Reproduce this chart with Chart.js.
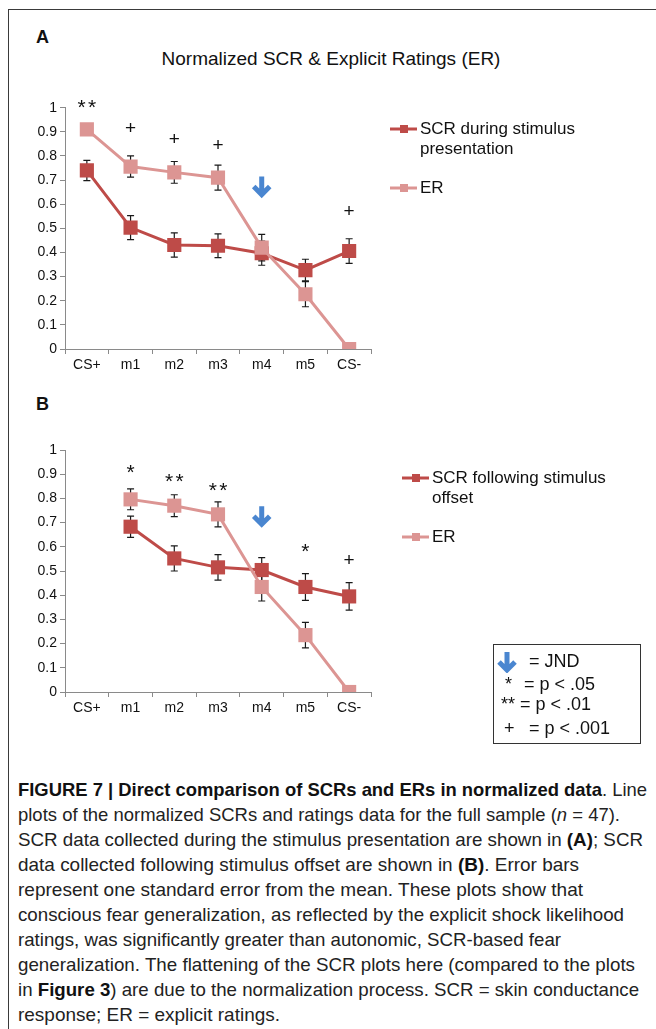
<!DOCTYPE html>
<html>
<head>
<meta charset="utf-8">
<script src="https://cdn.jsdelivr.net/npm/chart.js@4.4.1/dist/chart.umd.min.js"></script>
<style>
  body { margin: 0; background: #fff; font-family: "Liberation Sans", Arial, sans-serif; color: #111; }
  #page { position: relative; width: 656px; height: 1029px; overflow: hidden; }
  .frame { position: absolute; left: 8px; top: 9px; width: 700px; height: 1100px;
           border-left: 1.5px solid #3a3a3a; border-top: 1.5px solid #3a3a3a; }
  .panel-letter { position: absolute; font-weight: bold; font-size: 18px; }
  #titleA { position: absolute; left: 0; width: 662px; top: 48px; text-align: center; font-size: 19px; }
  .chart-box { position: absolute; left: 0; width: 656px; }
  #jnd { position: absolute; left: 493px; top: 644px; width: 146px; height: 98px;
         border: 1.5px solid #333; font-size: 18px; }
  #jnd span { position: absolute; white-space: nowrap; line-height: 20px; }
  #caption { position: absolute; left: 18px; top: 777px; font-size: 19px; line-height: 25px; color: #222; }
  #caption .ln { display: block; white-space: nowrap; height: 25px; }
  #caption .ln span { display: inline-block; transform-origin: 0 50%; }
  #caption b { color: #111; }
</style>
</head>
<body>
<div id="page">
  <div class="frame"></div>
  <div class="panel-letter" style="left:36px; top:27px;">A</div>
  <div id="titleA">Normalized SCR &amp; Explicit Ratings (ER)</div>
  <div class="chart-box" style="top:40px; height:345px;"><canvas id="chartA"></canvas></div>
  <div class="panel-letter" style="left:36px; top:394px;">B</div>
  <div class="chart-box" style="top:420px; height:310px;"><canvas id="chartB"></canvas></div>

  <div id="jnd">
    <svg style="position:absolute; left:3px; top:6px;" width="20" height="22" viewBox="0 0 20 22">
      <path d="M10 1 L10 19 M2 11 L10 19 L18 11" stroke="#4a86d0" stroke-width="5" fill="none"/>
    </svg>
    <span style="left:35px; top:6px;">= JND</span>
    <span style="left:11px; top:29px;">*</span>
    <span style="left:30px; top:29px;">= p &lt; .05</span>
    <span style="left:7px; top:49px;">**</span>
    <span style="left:26px; top:49px;">= p &lt; .01</span>
    <span style="left:10px; top:73px;">+</span>
    <span style="left:35px; top:73px;">= p &lt; .001</span>
  </div>

  <div id="caption">
    <div class="ln"><span><b>FIGURE 7 | Direct comparison of SCRs and ERs in normalized data</b>. Line</span></div>
    <div class="ln"><span>plots of the normalized SCRs and ratings data for the full sample (<i>n</i> = 47).</span></div>
    <div class="ln"><span>SCR data collected during the stimulus presentation are shown in <b>(A)</b>; SCR</span></div>
    <div class="ln"><span>data collected following stimulus offset are shown in <b>(B)</b>. Error bars</span></div>
    <div class="ln"><span>represent one standard error from the mean. These plots show that</span></div>
    <div class="ln"><span>conscious fear generalization, as reflected by the explicit shock likelihood</span></div>
    <div class="ln"><span>ratings, was significantly greater than autonomic, SCR-based fear</span></div>
    <div class="ln"><span>generalization. The flattening of the SCR plots here (compared to the plots</span></div>
    <div class="ln"><span>in <b>Figure 3</b>) are due to the normalization process. SCR = skin conductance</span></div>
    <div class="ln"><span>response; ER = explicit ratings.</span></div>
  </div>
</div>

<script>
// categorias y etiquetas de los ejes
const categories = ['CS+', 'm1', 'm2', 'm3', 'm4', 'm5', 'CS-'];
const yTickLabels = ['0', '0.1', '0.2', '0.3', '0.4', '0.5', '0.6', '0.7', '0.8', '0.9', '1'];

// Panel A: SCR durante la presentacion del estimulo
const scrA = [0.74, 0.503, 0.431, 0.428, 0.397, 0.327, 0.406];
const scrAErr = [0.042, 0.05, 0.05, 0.049, 0.05, 0.045, 0.051];
const erA = [0.91, 0.756, 0.732, 0.71, 0.42, 0.227, 0];
const erAErr = [0, 0.044, 0.045, 0.052, 0.055, 0.052, 0];
const sigA = ['**', '+', '+', '+', '', '', '+'];
const sigALevel = [1.025, 0.917, 0.873, 0.85, null, null, 0.573];
const jndALevel = 0.673;

// Panel B: SCR despues del estimulo
const scrB = [null, 0.683, 0.552, 0.515, 0.504, 0.434, 0.395];
const scrBErr = [null, 0.044, 0.052, 0.053, 0.051, 0.055, 0.057];
const erB = [null, 0.796, 0.77, 0.734, 0.434, 0.235, 0];
const erBErr = [null, 0.043, 0.045, 0.052, 0.058, 0.053, 0];
const sigB = ['', '*', '**', '**', '', '*', '+'];
const sigBLevel = [null, 0.93, 0.895, 0.855, null, 0.605, 0.55];
const jndBLevel = 0.726;

const jndIndex = 4; // m4
const scrColor = '#be4b48';
const erColor = '#dc9593';
const axisColor = '#8a8a8a';
const fontFamily = '"Liberation Sans", Arial, sans-serif';

// ancho de cada linea del pie de figura (borde derecho en px)
const captionLineEnds = [647, 620, 643, 579, 583, 624, 561, 635, 639, 280];

// barras de error (debajo de las lineas)
const errorBars = {
  id: 'errorBars',
  beforeDatasetsDraw(chart) {
    const ctx = chart.ctx;
    const y = chart.scales.y;
    ctx.save();
    ctx.strokeStyle = '#1a1a1a';
    ctx.lineWidth = 1.2;
    chart.data.datasets.forEach((ds, di) => {
      const meta = chart.getDatasetMeta(di);
      ds.errors.forEach((e, i) => {
        if (!e || ds.data[i] == null) return;
        const x = meta.data[i].x;
        const top = y.getPixelForValue(ds.data[i] + e);
        const bot = y.getPixelForValue(ds.data[i] - e);
        ctx.beginPath();
        ctx.moveTo(x, top); ctx.lineTo(x, bot);
        ctx.moveTo(x - 3.5, top); ctx.lineTo(x + 3.5, top);
        ctx.moveTo(x - 3.5, bot); ctx.lineTo(x + 3.5, bot);
        ctx.stroke();
      });
    });
    ctx.restore();
  }
};

// marcas de significancia y flecha JND
const sigMarks = {
  id: 'sigMarks',
  afterDatasetsDraw(chart, args, opts) {
    const ctx = chart.ctx;
    const xs = chart.scales.x, ys = chart.scales.y;
    ctx.save();
    ctx.fillStyle = '#111';
    ctx.textAlign = 'center';
    ctx.textBaseline = 'alphabetic';
    opts.labels.forEach((lab, i) => {
      if (!lab) return;
      const x = xs.getPixelForValue(i);
      const yc = ys.getPixelForValue(opts.levels[i]);
      if (lab[0] === '*') {
        ctx.font = '21px ' + fontFamily;
        const n = lab.length;
        for (let k = 0; k < n; k++) {
          ctx.fillText('*', x + (k - (n - 1) / 2) * 10.5, yc + 0.58 * 21);
        }
      } else {
        ctx.font = '19px ' + fontFamily;
        ctx.fillText(lab, x, yc + 0.35 * 19);
      }
    });
    // flecha azul
    const ax = xs.getPixelForValue(jndIndex);
    const ay = ys.getPixelForValue(opts.jndLevel);
    ctx.strokeStyle = '#4a86d0';
    ctx.lineWidth = 5;
    ctx.beginPath();
    ctx.moveTo(ax, ay - 10); ctx.lineTo(ax, ay + 8);
    ctx.moveTo(ax - 8, ay); ctx.lineTo(ax, ay + 8); ctx.lineTo(ax + 8, ay);
    ctx.stroke();
    ctx.restore();
  }
};

// leyenda al lado derecho
const sideLegend = {
  id: 'sideLegend',
  afterDraw(chart, args, opts) {
    const ctx = chart.ctx;
    const x0 = chart.chartArea.right + opts.dx;
    ctx.save();
    ctx.font = '17px ' + fontFamily;
    ctx.textBaseline = 'middle';
    opts.items.forEach(item => {
      const ds = chart.data.datasets[item.ds];
      ctx.strokeStyle = ds.borderColor;
      ctx.lineWidth = 3;
      ctx.beginPath();
      ctx.moveTo(x0, item.y); ctx.lineTo(x0 + 27, item.y);
      ctx.stroke();
      ctx.fillStyle = ds.backgroundColor;
      ctx.fillRect(x0 + 10, item.y - 4, 8, 8);
      ctx.fillStyle = '#111';
      item.lines.forEach((t, k) => ctx.fillText(t, x0 + 30, item.y + k * 20));
    });
    ctx.restore();
  }
};

function buildChart(id, scr, scrErr, er, erErr, extra) {
  return new Chart(document.getElementById(id), {
    type: 'line',
    data: {
      labels: categories,
      datasets: [
        { label: extra.scrLabel, data: scr, errors: scrErr, borderColor: scrColor, backgroundColor: scrColor,
          borderWidth: 3, pointStyle: 'rect', pointRadius: 10, pointBorderWidth: 0, order: 1 },
        { label: 'ER', data: er, errors: erErr, borderColor: erColor, backgroundColor: erColor,
          borderWidth: 3, pointStyle: 'rect', pointRadius: 10, pointBorderWidth: 0, order: 0 }
      ]
    },
    options: {
      responsive: true,
      maintainAspectRatio: false,
      animation: false,
      layout: { padding: { left: 20, right: 285, top: extra.padTop, bottom: extra.padBottom } },
      scales: {
        x: {
          offset: true,
          grid: { offset: true, drawOnChartArea: false, tickLength: 5, color: axisColor },
          border: { color: axisColor },
          ticks: { color: '#111', font: { size: 14, family: fontFamily }, padding: 3, maxRotation: 0 },
          afterFit(s) { s.height = 26; }
        },
        y: {
          min: 0, max: 1,
          ticks: { stepSize: 0.1, color: '#111', font: { size: 14, family: fontFamily }, padding: 3,
                   callback: (v, i) => yTickLabels[i] },
          grid: { drawOnChartArea: false, tickLength: 5, color: axisColor },
          border: { color: axisColor },
          afterFit(s) { s.width = 45; }
        }
      },
      plugins: {
        legend: { display: false },
        tooltip: { enabled: false },
        title: { display: false },
        sigMarks: { labels: extra.sig, levels: extra.sigLevel, jndLevel: extra.jndLevel },
        sideLegend: { dx: extra.legendDx, items: extra.legendItems }
      }
    },
    plugins: [errorBars, sigMarks, sideLegend]
  });
}

buildChart('chartA', scrA, scrAErr, erA, erAErr, {
  scrLabel: 'SCR during stimulus presentation',
  padTop: 67.7, padBottom: 10,
  sig: sigA, sigLevel: sigALevel, jndLevel: jndALevel,
  legendDx: 19,
  legendItems: [ { ds: 0, y: 89, lines: ['SCR during stimulus', 'presentation'] },
                 { ds: 1, y: 148, lines: ['ER'] } ]
});

buildChart('chartB', scrB, scrBErr, erB, erBErr, {
  scrLabel: 'SCR following stimulus offset',
  padTop: 30, padBottom: 12,
  sig: sigB, sigLevel: sigBLevel, jndLevel: jndBLevel,
  legendDx: 31,
  legendItems: [ { ds: 0, y: 58, lines: ['SCR following stimulus', 'offset'] },
                 { ds: 1, y: 117, lines: ['ER'] } ]
});

// ajustar el ancho de cada linea del pie (fuente condensada)
document.querySelectorAll('#caption .ln span').forEach((sp, i) => {
  const w = sp.getBoundingClientRect().width;
  const target = captionLineEnds[i] - 18;
  sp.style.transform = 'scaleX(' + (target / w).toFixed(4) + ')';
});
</script>
</body>
</html>
